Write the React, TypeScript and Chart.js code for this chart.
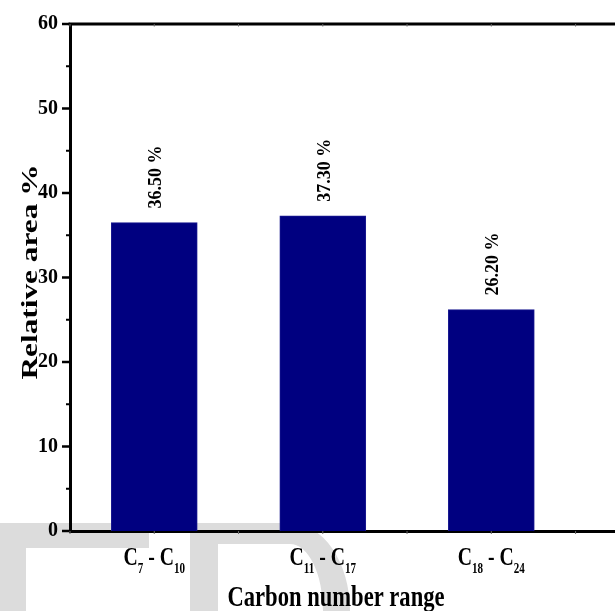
import React, { useEffect, useRef } from 'react';
import { Chart, registerables } from 'chart.js';

Chart.register(...registerables);

// ---- data ----
const carbonFrom = ['7', '11', '18'];
const carbonTo = ['10', '17', '24'];
const relativeArea = [36.5, 37.3, 26.2];
const yMin = 0;
const yMax = 60;
const yMajorStep = 10;
const yMinorStep = 5;
const yTitle = 'Relative area %';
const xTitle = 'Carbon number range';

const FONT = "'Liberation Serif', 'Times New Roman', serif";
const BAR_COLOR = '#000080';

function drawSubLabel(
  ctx: CanvasRenderingContext2D,
  cx: number,
  baseline: number,
  parts: [string, boolean][],
  mainSize: number,
  subSize: number,
  sx: number
) {
  const mainFont = `bold ${mainSize}px ${FONT}`;
  const subFont = `bold ${subSize}px ${FONT}`;
  let total = 0;
  const widths = parts.map(([t, sub]) => {
    ctx.font = sub ? subFont : mainFont;
    const w = ctx.measureText(t).width;
    total += w;
    return w;
  });
  ctx.save();
  ctx.translate(cx - (total * sx) / 2, baseline);
  ctx.scale(sx, 1);
  ctx.textAlign = 'left';
  ctx.textBaseline = 'alphabetic';
  ctx.fillStyle = '#000';
  let x = 0;
  parts.forEach(([t, sub], i) => {
    ctx.font = sub ? subFont : mainFont;
    ctx.fillText(t, x, sub ? 8 : 0);
    x += widths[i];
  });
  ctx.restore();
}

function drawFitted(
  ctx: CanvasRenderingContext2D,
  text: string,
  x: number,
  y: number,
  size: number,
  targetWidth: number,
  rotate: number
) {
  ctx.save();
  ctx.font = `bold ${size}px ${FONT}`;
  const w = ctx.measureText(text).width;
  ctx.translate(x, y);
  ctx.rotate(rotate);
  ctx.scale(targetWidth / w, 1);
  ctx.textAlign = 'center';
  ctx.textBaseline = 'alphabetic';
  ctx.fillStyle = '#000';
  ctx.fillText(text, 0, 0);
  ctx.restore();
}

export default function App() {
  const ref = useRef<HTMLCanvasElement>(null);

  useEffect(() => {
    const canvas = ref.current;
    if (!canvas) return;

    const decorations = {
      id: 'decorations',
      beforeDraw(chart: any) {
        const ctx: CanvasRenderingContext2D = chart.ctx;
        ctx.save();
        ctx.fillStyle = '#dcdcdc';
        // faint watermark letters at the bottom
        ctx.fillRect(0, 523, 149, 25);
        ctx.fillRect(0, 548, 26, 63);
        ctx.beginPath();
        ctx.moveTo(190, 611);
        ctx.lineTo(190, 523);
        ctx.lineTo(290, 523);
        ctx.ellipse(290, 611, 60, 88, 0, -Math.PI / 2, 0, false);
        ctx.lineTo(323, 611);
        ctx.ellipse(290, 611, 33, 67, 0, 0, -Math.PI / 2, true);
        ctx.lineTo(218, 544);
        ctx.lineTo(218, 611);
        ctx.closePath();
        ctx.fill();
        ctx.restore();
      },
      afterDraw(chart: any) {
        const ctx: CanvasRenderingContext2D = chart.ctx;
        const xs = chart.scales.x;
        const ys = chart.scales.y;
        const area = chart.chartArea;
        ctx.save();
        // top frame line
        ctx.strokeStyle = '#000';
        ctx.lineWidth = 3;
        ctx.beginPath();
        ctx.moveTo(area.left - 1.5, area.top);
        ctx.lineTo(area.right + 2, area.top);
        ctx.stroke();

        // y ticks (outward)
        for (let v = yMin; v <= yMax; v += yMinorStep) {
          const py = ys.getPixelForValue(v);
          const major = v % yMajorStep === 0;
          ctx.lineWidth = major ? 2.5 : 2;
          ctx.beginPath();
          ctx.moveTo(area.left - (major ? 8 : 4), py);
          ctx.lineTo(area.left, py);
          ctx.stroke();
        }
        // x ticks (small) on bottom and top
        ctx.strokeStyle = '#666';
        ctx.lineWidth = 1;
        for (let v = 0.5; v <= xs.max; v += 0.5) {
          const px = xs.getPixelForValue(v);
          ctx.beginPath();
          ctx.moveTo(px, area.bottom);
          ctx.lineTo(px, area.bottom + 3);
          ctx.moveTo(px, area.top);
          ctx.lineTo(px, area.top + 2.5);
          ctx.stroke();
        }

        // value labels above bars
        ctx.fillStyle = '#000';
        ctx.font = `bold 18px ${FONT}`;
        ctx.textAlign = 'left';
        ctx.textBaseline = 'alphabetic';
        relativeArea.forEach((v, i) => {
          const px = xs.getPixelForValue(i + 1);
          const py = ys.getPixelForValue(v);
          ctx.save();
          ctx.translate(px + 7, py - 14);
          ctx.rotate(-Math.PI / 2);
          ctx.fillText(`${v.toFixed(2)} %`, 0, 0);
          ctx.restore();
        });

        // x category labels with subscripts
        carbonFrom.forEach((from, i) => {
          const px = xs.getPixelForValue(i + 1);
          drawSubLabel(
            ctx,
            px,
            area.bottom + 34,
            [
              ['C', false],
              [from, true],
              [' - ', false],
              ['C', false],
              [carbonTo[i], true],
            ],
            25,
            14,
            0.79
          );
        });

        // axis titles
        drawFitted(ctx, xTitle, 336, 606, 30, 217, 0);
        drawFitted(ctx, yTitle, 37, 272, 23, 215, -Math.PI / 2);
        ctx.restore();
      },
    };

    const chart = new Chart(canvas, {
      type: 'bar',
      data: {
        datasets: [
          {
            data: relativeArea.map((v, i) => ({ x: i + 1, y: v })),
            backgroundColor: BAR_COLOR,
            borderColor: '#1a1a90',
            borderWidth: 1,
            barThickness: 86,
          },
        ],
      },
      options: {
        animation: false,
        responsive: false,
        maintainAspectRatio: false,
        events: [],
        layout: { padding: { top: 21, left: 0, right: 0, bottom: 0 } },
        plugins: {
          legend: { display: false },
          tooltip: { enabled: false },
        },
        scales: {
          x: {
            type: 'linear',
            offset: false,
            min: 0.5,
            max: 3.734,
            ticks: { display: false, stepSize: 0.5, includeBounds: false },
            grid: { display: false, drawTicks: false },
            border: { display: true, color: '#000', width: 3 },
            afterFit: (scale: any) => {
              scale.height = 80;
            },
          },
          y: {
            type: 'linear',
            min: yMin,
            max: yMax,
            ticks: {
              stepSize: yMinorStep,
              autoSkip: false,
              padding: 12,
              color: '#000',
              font: { family: FONT, size: 20, weight: 'bold' },
              callback: (v: any) => (Number(v) % yMajorStep === 0 ? String(v) : ''),
            },
            grid: { display: false, drawTicks: false },
            border: { display: true, color: '#000', width: 3 },
            afterFit: (scale: any) => {
              scale.width = 70;
            },
          },
        },
      } as any,
      plugins: [decorations],
    });

    return () => chart.destroy();
  }, []);

  return (
    <div style={{ position: 'fixed', left: 0, top: 0, width: 615, height: 611, background: '#fff' }}>
      <canvas ref={ref} width={615} height={611} style={{ display: 'block', width: 615, height: 611 }} />
    </div>
  );
}
